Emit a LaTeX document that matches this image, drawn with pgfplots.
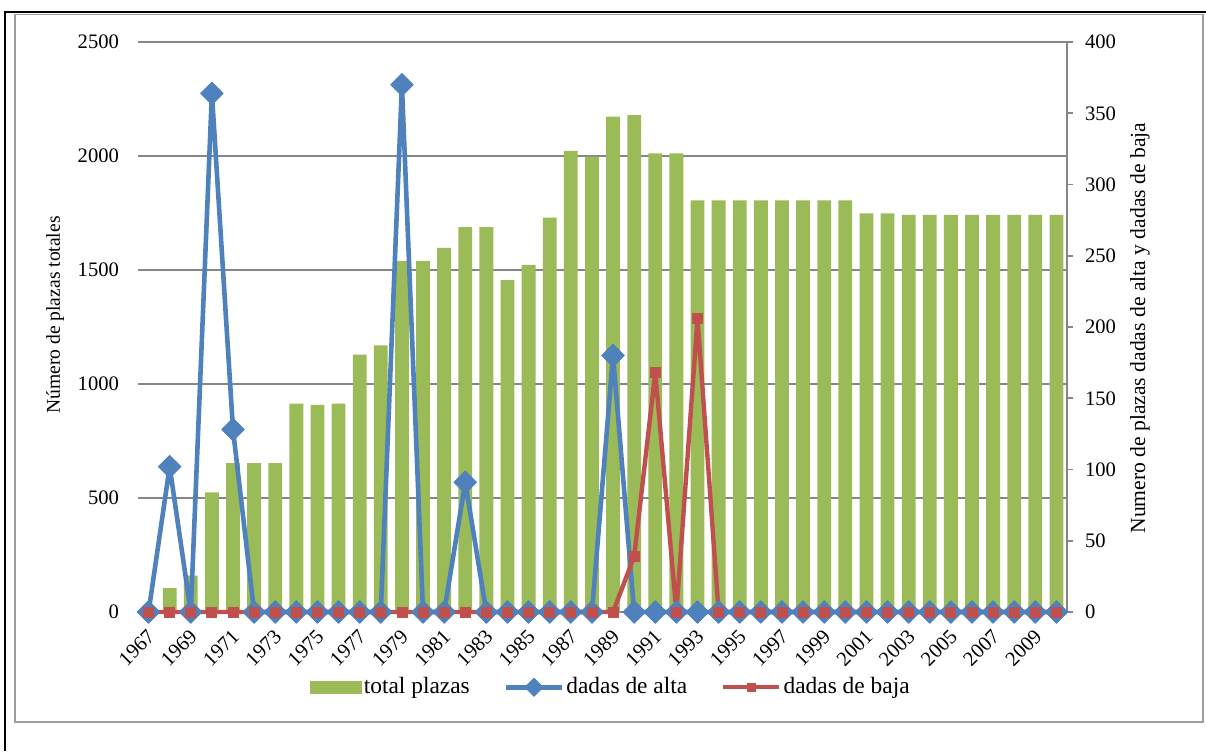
\documentclass[border=0pt]{standalone}
\usepackage{fontspec}
\setmainfont{Liberation Serif}
\usepackage{pgfplots}
\pgfplotsset{compat=1.18}
\usepackage{pgfplotstable}

\definecolor{barverde}{HTML}{9BBB59}
\definecolor{lineaazul}{HTML}{4F81BD}
\definecolor{linearoja}{HTML}{C0504D}
\definecolor{rejilla}{HTML}{868686}

% x = indice del año (0 = 1967)
\pgfplotstableread{
x total alta baja
0  0    0   0
1  105  102 0
2  160  0   0
3  525  364 0
4  653  128 0
5  653  0   0
6  653  0   0
7  914  0   0
8  909  0   0
9  914  0   0
10 1129 0   0
11 1169 0   0
12 1540 370 0
13 1540 0   0
14 1597 0   0
15 1688 91  0
16 1688 0   0
17 1456 0   0
18 1522 0   0
19 1730 0   0
20 2023 0   0
21 1997 0   0
22 2173 180 0
23 2179 0   39
24 2012 0   168
25 2012 0   0
26 1805 0   206
27 1805 0   0
28 1805 0   0
29 1805 0   0
30 1805 0   0
31 1805 0   0
32 1805 0   0
33 1805 0   0
34 1748 0   0
35 1748 0   0
36 1742 0   0
37 1742 0   0
38 1742 0   0
39 1742 0   0
40 1742 0   0
41 1742 0   0
42 1742 0   0
43 1742 0   0
}\datos

\pgfplotsset{
  comun/.style={
    scale only axis, width=464.5pt, height=285pt,
    xmin=-0.5, xmax=43.5, ymin=0,
    yticklabel style={/pgf/number format/1000 sep={}, /pgf/number format/assume math mode=true,
      font=\fontsize{10.3}{12}\selectfont},
    scaled y ticks=false,
  },
}

\begin{document}
\begin{tikzpicture}
\useasboundingbox (-69pt,-69.5pt) rectangle (534pt,306pt);
\draw[black, line width=1pt] (-66.5pt,-69.5pt) -- (-66.5pt,299.75pt) -- (534pt,299.75pt);
\draw[rejilla!80, line width=0.8pt] (-61.5pt,-55pt) rectangle (532.5pt,298.75pt);

\begin{axis}[comun,
  ymax=2500,
  ybar, bar width=6.9pt,
  axis x line*=bottom, axis y line*=left,
  x axis line style={draw=rejilla, line width=0.6pt, -},
  y axis line style={draw=none},
  major tick length=0pt,
  ytick={0,500,...,2500},
  ymajorgrids, grid style={draw=rejilla, line width=0.6pt},
  yticklabel style={xshift=-6pt},
  xtick={0,2,...,42},
  xticklabels={1967,1969,1971,1973,1975,1977,1979,1981,1983,1985,1987,1989,1991,1993,1995,1997,1999,2001,2003,2005,2007,2009},
  xticklabel style={anchor=east, inner sep=0pt, yshift=-10.5pt, xshift=1.5pt, rotate=45,
    font=\fontsize{10.3}{12}\selectfont},
  ylabel={Número de plazas totales},
  ylabel style={at={(axis description cs:-0.0893,0.521)}, rotate=0, anchor=center,
    font=\fontsize{9.8}{11}\selectfont},
]
\addplot[fill=barverde, draw=none, bar shift=0pt] table[x=x, y=total] {\datos};
\end{axis}

\begin{axis}[comun,
  ymax=400,
  axis y line*=right, axis x line=none,
  y axis line style={draw=rejilla, line width=0.8pt, -},
  ytick={0,50,...,400},
  tick align=outside, major tick length=3pt,
  ytick style={draw=rejilla, line width=0.8pt},
  yticklabel style={xshift=2.5pt},
  clip=false,
  ylabel={Numero de plazas dadas de alta y dadas de baja},
  ylabel style={at={(axis description cs:1.0786,0.498)}, rotate=0, anchor=center,
    font=\fontsize{10.8}{12}\selectfont},
  legend image code/.code={
    \draw[mark repeat=2, mark phase=2, #1, every mark/.append style={scale=0.8}]
      plot coordinates {(0pt,0pt) (14pt,0pt) (28pt,0pt)};},
  legend style={at={(0.509,-0.132)}, anchor=center, draw=none, fill=none,
    legend columns=3, font=\fontsize{11.7}{13}\selectfont,
    nodes={inner sep=1pt},
    /tikz/every even column/.append style={column sep=16pt}},
]
\addlegendimage{legend image code/.code={\fill[barverde] (0pt,-3pt) rectangle (25.5pt,3pt);}}
\addlegendentry{total plazas}
\addplot[lineaazul, line width=2.3pt, line join=round, mark=square*,
  mark options={rotate=45, solid, line width=0.4pt}, mark size=4pt]
  table[x=x, y=alta] {\datos};
\addlegendentry{dadas de alta}
\addplot[linearoja, line width=2.2pt, line join=round, mark=square*,
  mark options={solid, line width=0.4pt}, mark size=2.5pt]
  table[x=x, y=baja] {\datos};
\addlegendentry{dadas de baja}
\end{axis}
\end{tikzpicture}
\end{document}
